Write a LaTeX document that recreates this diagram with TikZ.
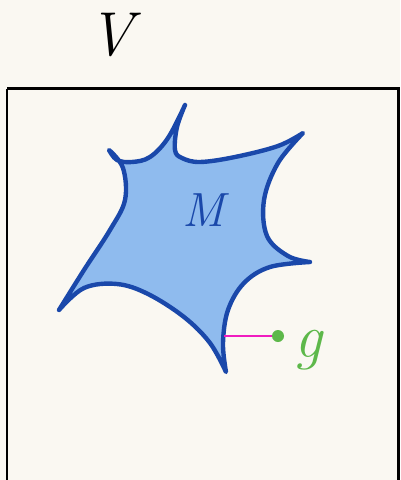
\documentclass[tikz,border=0pt]{standalone}
\usepackage{fontspec}
\usepackage{xcolor}
\usepackage{tikz}
\usetikzlibrary{calc,positioning}
\definecolor{paperc}{HTML}{FAF8F2}
\definecolor{edgec}{HTML}{1A48AA}
\definecolor{fillc}{HTML}{8FBBEE}
\definecolor{linkc}{HTML}{F01CC0}
\definecolor{ptc}{HTML}{5DB84A}
\tikzset{
  frame/.style={draw=black,line width=2.4pt},
  blob/.style={draw=edgec,fill=fillc,line width=4.4pt,line join=round,line cap=round},
  dotn/.style={circle,fill=ptc,minimum size=12pt,inner sep=0pt},
  lbl/.style={inner sep=0pt,font=\fontsize{62}{62}\selectfont\itshape}
}

\begin{document}
\begin{tikzpicture}[x=1pt,y=-1pt]
\fill[paperc] (0,0) rectangle (400,480);
\useasboundingbox (0,0) rectangle (400,480);
\clip (0,0) rectangle (400,480);
\node[lbl] (vlab) at (111,35) {V};
\draw[frame] (7,88.5) -- (398.5,88.5) -- (398.5,490) (7,88.5) -- (7,490);
% the set M
\filldraw[blob] (109,150) plot[smooth,tension=0.6] coordinates {(109,150) (117,160) (132,162) (150,157) (168,138) (185,105)}
  -- plot[smooth,tension=0.6] coordinates {(185,105) (177,127) (175,150) (182,158) (200,162) (235,157) (278,146) (303,133)}
  -- plot[smooth,tension=0.6] coordinates {(303,133) (278,163) (264,200) (267,236) (288,256) (310,262)}
  -- plot[smooth,tension=0.6] coordinates {(310,262) (270,267) (244,283) (228,310) (223,343) (226,372)}
  -- plot[smooth,tension=0.6] coordinates {(226,372) (210,343) (184,317) (148,294) (117,284) (84,288) (59,310)}
  -- plot[smooth,tension=0.6] coordinates {(59,310) (84,270) (110,230) (125,200) (123,168) (109,150)} -- cycle;
\node[lbl,text=edgec,font=\fontsize{48}{48}\selectfont\itshape] (mlab) at (204,210) {M};
\coordinate (mb) at (224,336);
\node[dotn] (gdot) at (278,336) {};
\draw[linkc,line width=2.5pt] (mb) -- (gdot);
\node[lbl,text=ptc,right=16pt of gdot.center,yshift=-14pt] (glab) {g};
\end{tikzpicture}
\end{document}
